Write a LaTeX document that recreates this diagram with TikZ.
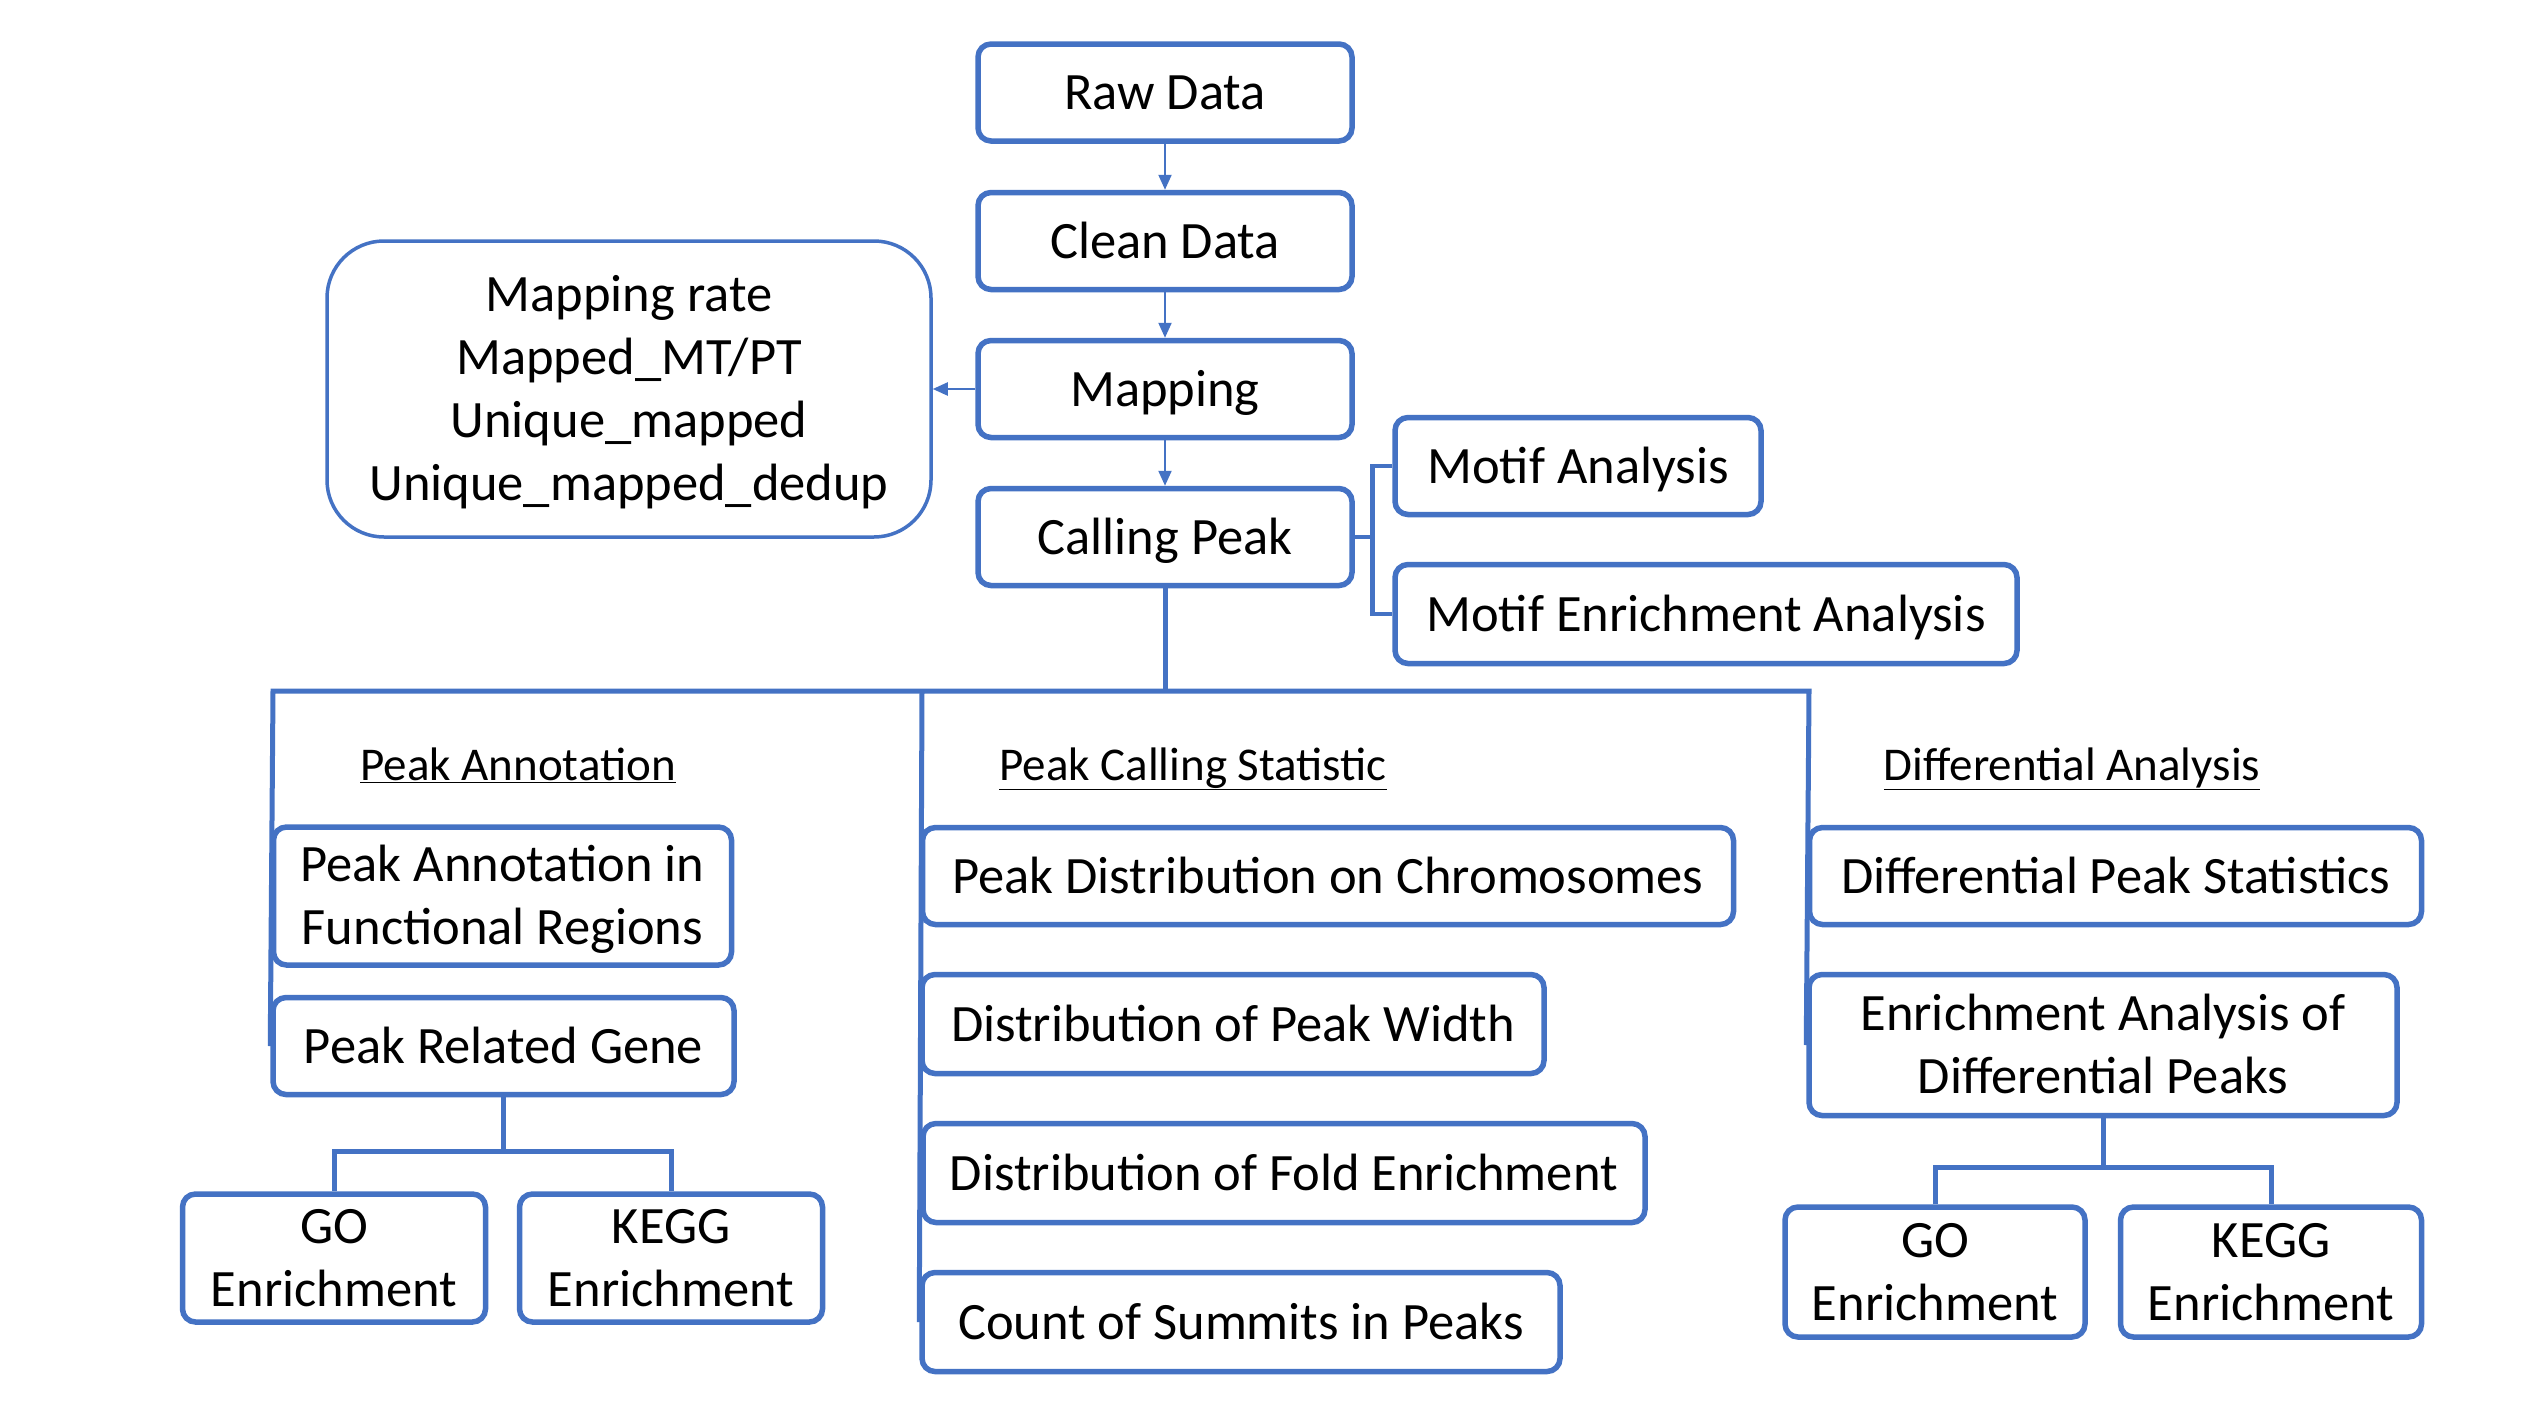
\documentclass[tikz,border=0pt]{standalone}
\usepackage{fontspec}
\setmainfont{Carlito}
\usetikzlibrary{arrows.meta}
\definecolor{obl}{HTML}{4472C4}
\newcommand\bxstrut{\rule[-13pt]{0pt}{60pt}}
\newcommand\ttstrut{\rule[-12pt]{0pt}{54pt}}
\begin{document}
\begin{tikzpicture}[x=1pt,y=-1pt,
 box/.style={draw=obl,line width=5.5pt,rounded corners=13pt,inner sep=0pt,align=center,font=\fontsize{52.5}{63}\selectfont,
   execute at begin node=\bxstrut, execute at end node=\bxstrut},
 ttl/.style={inner sep=0pt,font=\fontsize{47}{56}\selectfont},
 tree/.style={draw=obl,line width=5pt},
 arr/.style={draw=obl,line width=2.2pt,-{Triangle[length=15pt,width=13pt]}}]
\useasboundingbox[fill=white] (0,0) rectangle (2538,1427);
% main chain
\node[box,minimum width=374pt,minimum height=97pt] (raw) at (1165,92.5) {Raw Data};
\node[box,minimum width=374pt,minimum height=97pt] (clean) at (1165,241) {Clean Data};
\node[box,minimum width=374pt,minimum height=97pt] (map) at (1165,389) {Mapping};
\node[box,minimum width=374pt,minimum height=97pt] (cp) at (1165,537) {Calling Peak};
\node[box,line width=3.5pt,rounded corners=57pt,minimum width=604pt,minimum height=296pt] (stats) at (629,389)
 {\bxstrut Mapping rate\\Mapped\_MT/PT\\Unique\_mapped\\Unique\_mapped\_dedup};
\node[box,minimum width=366pt,minimum height=97pt] (motif) at (1578,466) {Motif Analysis};
\node[box,minimum width=622pt,minimum height=99pt] (menr) at (1706,614) {Motif Enrichment Analysis};
\draw[arr] (raw.south) -- (clean.north);
\draw[arr] (clean.south) -- (map.north);
\draw[arr] (map.south) -- (cp.north);
\draw[arr] (map.west) -- (stats.east);
\coordinate (bx) at (1372.6,537);
\draw[tree,line width=4.5pt] (cp.east) -- (bx);
\draw[tree,line width=4.5pt] (motif.west) -| (bx) |- (menr.west);
% titles
\node[ttl] (t1) at (518,765) {\ttstrut\underline{Peak Annotation}};
\node[ttl] (t2) at (1193,765) {\ttstrut\underline{Peak Calling Statistic}};
\node[ttl] (t3) at (2072,765) {\ttstrut\underline{Differential Analysis}};
% left column
\node[box,minimum width=458pt,minimum height=138pt] (pafr) at (502.5,896) {\bxstrut Peak Annotation in\\Functional Regions};
\node[box,minimum width=461pt,minimum height=97pt] (prg) at (503.5,1046) {Peak Related Gene};
\node[box,minimum width=303pt,minimum height=128pt] (go1) at (334,1258) {\bxstrut GO\\Enrichment};
\node[box,minimum width=303pt,minimum height=128pt] (kegg1) at (671,1258) {\bxstrut KEGG\\Enrichment};
% middle column
\node[box,minimum width=811pt,minimum height=97pt] (pdc) at (1328,876) {Peak Distribution on Chromosomes};
\node[box,minimum width=622pt,minimum height=99pt] (dpw) at (1233,1024) {Distribution of Peak Width};
\node[box,minimum width=722pt,minimum height=99pt] (dfe) at (1284,1173) {Distribution of Fold Enrichment};
\node[box,minimum width=638pt,minimum height=99pt] (csp) at (1241,1322) {Count of Summits in Peaks};
% right column
\node[box,minimum width=612pt,minimum height=97pt] (dps) at (2115.5,876) {Differential Peak Statistics};
\node[box,minimum width=588pt,minimum height=141pt] (eadp) at (2103,1045) {\bxstrut Enrichment Analysis of\\Differential Peaks};
\node[box,minimum width=300pt,minimum height=130pt] (go2) at (1935,1272) {\bxstrut GO\\Enrichment};
\node[box,minimum width=301pt,minimum height=130pt] (kegg2) at (2271,1272) {\bxstrut KEGG\\Enrichment};
% tree
\coordinate (hub) at (1165,691);
\coordinate (L) at (273,691);
\coordinate (M) at (922,691);
\coordinate (R) at (1809,691);
\draw[tree] (cp.south) -- (hub);
\draw[tree] (prg.west) -- (L) -- (R) -- (eadp.west);
\draw[tree] (M) -- (csp.west);
\coordinate (lb) at (503.5,1151);
\draw[tree] (prg.south) -- (lb);
\draw[tree] (go1.north) |- (lb) -| (kegg1.north);
\coordinate (rb) at (2103,1167);
\draw[tree] (eadp.south) -- (rb);
\draw[tree] (go2.north) |- (rb) -| (kegg2.north);
\end{tikzpicture}
\end{document}
